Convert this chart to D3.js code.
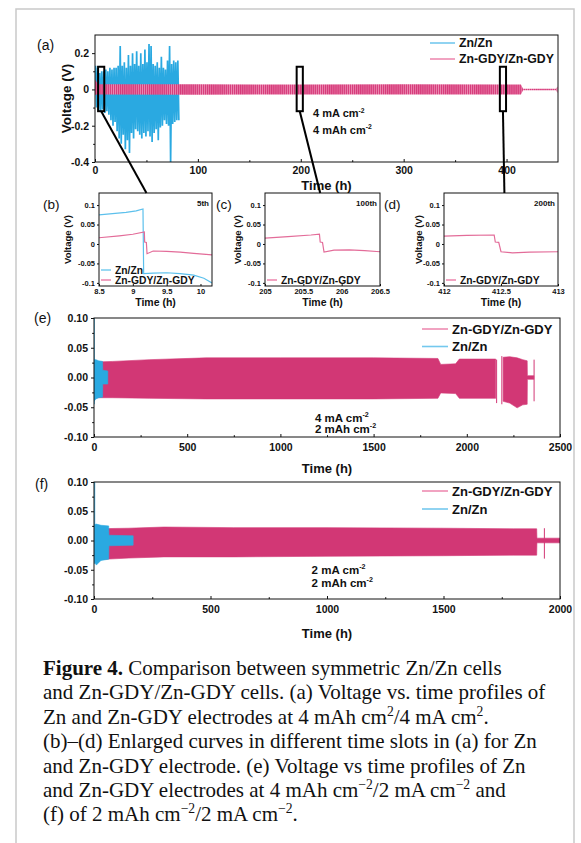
<!DOCTYPE html>
<html>
<head>
<meta charset="utf-8">
<script src="https://cdn.jsdelivr.net/npm/d3@7"></script>
<style>
  body { margin: 0; background: #fff; }
</style>
</head>
<body>
<svg id="fig" width="581" height="843"></svg>
<script>
// ---------- data ----------

// (a) Zn/Zn, one peak / trough per cycle (h, V)
const aZnCycleTime = [1,3,5,7,9,11,13,15,17,19,21,23,25,27,29,31,33,35,37,39,41,43,45,47,49,51,53,55,57,59,61,63,65,67,69,71,73,75,77,79,81];
const aZnCycleHigh = [0.13,0.12,0.09,0.10,0.10,0.11,0.10,0.12,0.11,0.12,
  0.12,0.13,0.24,0.13,0.15,0.12,0.19,0.13,0.20,0.14,
  0.21,0.13,0.20,0.14,0.22,0.15,0.25,0.24,0.14,0.13,
  0.15,0.12,0.18,0.12,0.11,0.16,0.24,0.14,0.16,0.15,0.16];
const aZnCycleLow = [-0.10,-0.12,-0.12,-0.11,-0.13,-0.12,-0.14,-0.17,-0.20,-0.18,
  -0.23,-0.27,-0.30,-0.25,-0.33,-0.28,-0.35,-0.24,-0.27,-0.22,
  -0.23,-0.25,-0.27,-0.24,-0.26,-0.23,-0.26,-0.29,-0.24,-0.22,
  -0.28,-0.21,-0.20,-0.17,-0.19,-0.20,-0.40,-0.19,-0.18,-0.17,-0.17];

// (a) Zn-GDY/Zn-GDY envelope
const aGdyTime = [0, 3, 100, 200, 300, 414, 416, 448, 449.5];
const aGdyHigh = [0.055, 0.028, 0.028, 0.027, 0.028, 0.027, 0.004, 0.004, 0.016];
const aGdyLow  = [-0.03, -0.028, -0.029, -0.028, -0.028, -0.028, -0.004, -0.004, -0.02];

// (a) zoom windows
const aBoxTime = [[3, 9], [196, 202], [393.5, 399.5]];
const aBoxVolt = [-0.12, 0.125];

// (b) 5th cycle
const bZnTime = [8.5, 8.7, 8.9, 9.05, 9.15, 9.16, 9.3, 9.5, 9.7, 9.9, 10.05, 10.17];
const bZnVolt = [0.075, 0.078, 0.081, 0.085, 0.09, -0.076, -0.075, -0.074, -0.076, -0.08, -0.088, -0.1];
const bGdyTime = [8.5, 8.8, 9.0, 9.17, 9.175, 9.2, 9.21, 9.3, 9.5, 9.7, 9.9, 10.17];
const bGdyVolt = [0.016, 0.021, 0.025, 0.031, 0.005, 0.004, -0.025, -0.018, -0.019, -0.021, -0.024, -0.028];

// (c) 100th cycle
const cGdyTime = [205, 205.3, 205.6, 205.71, 205.72, 205.75, 205.77, 205.9, 206.1, 206.3, 206.5];
const cGdyVolt = [0.015, 0.019, 0.023, 0.025, 0.005, 0.004, -0.021, -0.016, -0.015, -0.017, -0.02];

// (d) 200th cycle
const dGdyTime = [412, 412.2, 412.44, 412.45, 412.48, 412.5, 412.6, 412.75, 413];
const dGdyVolt = [0.02, 0.022, 0.023, 0.005, 0.004, -0.02, -0.023, -0.021, -0.02];

// (e) 4 mA cm-2 / 2 mAh cm-2 envelopes (null = gap)
const eGdyTime = [0, 100, 300, 600, 1000, 1500, 1845, 1860, 1940, 1960, 2155, 2156, 2195, 2230, 2270, 2300, 2324, 2325, 2360];
const eGdyHigh = [0.026, 0.027, 0.030, 0.033, 0.033, 0.033, 0.032, 0.022, 0.023, 0.031, 0.031, null, 0.034, 0.035, 0.033, 0.030, 0.028, 0.003, 0.003];
const eGdyLow  = [-0.034, -0.034, -0.035, -0.036, -0.036, -0.036, -0.035, -0.026, -0.027, -0.035, -0.035, null, -0.040, -0.043, -0.051, -0.046, -0.045, -0.003, -0.003];
const eGdySpikeTime = [2160, 2188, 2361];
const eGdySpikeHigh = [0.030, 0.036, 0.030];
const eGdySpikeLow  = [-0.043, -0.045, -0.040];
const eZnTime = [0, 10, 25, 46, 47, 74];
const eZnHigh = [0.030, 0.030, 0.028, 0.027, 0.012, 0.011];
const eZnLow  = [-0.040, -0.036, -0.034, -0.033, -0.011, -0.011];
const eZnSpikeTime = [1];
const eZnSpikeHigh = [0.10];
const eZnSpikeLow  = [-0.045];

// (f) 2 mA cm-2 / 2 mAh cm-2 envelopes
const fGdyTime = [0, 150, 300, 600, 1000, 1500, 1800, 1900, 1901, 2000];
const fGdyHigh = [0.020, 0.021, 0.023, 0.022, 0.022, 0.021, 0.020, 0.020, 0.004, 0.004];
const fGdyLow  = [-0.033, -0.030, -0.028, -0.028, -0.027, -0.026, -0.025, -0.025, -0.004, -0.004];
const fGdySpikeTime = [1933];
const fGdySpikeHigh = [0.021];
const fGdySpikeLow  = [-0.031];
const fZnTime = [0, 10, 30, 63, 64, 168];
const fZnHigh = [0.027, 0.028, 0.026, 0.025, 0.009, 0.008];
const fZnLow  = [-0.035, -0.042, -0.034, -0.032, -0.009, -0.008];
const fZnSpikeTime = [3];
const fZnSpikeHigh = [0.10];
const fZnSpikeLow  = [-0.04];

// tick labels
const aXTicks = [0, 100, 200, 300, 400];
const aXLabels = ["0", "100", "200", "300", "400"];
const aYTicks = [-0.4, -0.2, 0, 0.2];
const aYLabels = ["-0.4", "-0.2", "0", "0.2"];
const bXTicks = [8.5, 9, 9.5, 10];
const bXLabels = ["8.5", "9", "9.5", "10"];
const cXTicks = [205, 205.5, 206, 206.5];
const cXLabels = ["205", "205.5", "206", "206.5"];
const dXTicks = [412, 412.5, 413];
const dXLabels = ["412", "412.5", "413"];
const zoomYTicks = [-0.1, -0.05, 0, 0.05, 0.1];
const zoomYLabels = ["-0.1", "-0.05", "0", "0.05", "0.1"];
const eXTicks = [0, 500, 1000, 1500, 2000, 2500];
const eXLabels = ["0", "500", "1000", "1500", "2000", "2500"];
const fXTicks = [0, 500, 1000, 1500, 2000];
const fXLabels = ["0", "500", "1000", "1500", "2000"];
const efYTicks = [-0.1, -0.05, 0, 0.05, 0.1];
const efYLabels = ["-0.10", "-0.05", "0.00", "0.05", "0.10"];

const captionLines = [
  [["Figure 4.", "b"], [" Comparison between symmetric Zn/Zn cells", ""]],
  [["and Zn-GDY/Zn-GDY cells. (a) Voltage vs. time profiles of", ""]],
  [["Zn and Zn-GDY electrodes at 4 mAh cm", ""], ["2", "sup"], ["/4 mA cm", ""], ["2", "sup"], [".", ""]],
  [["(b)\u2013(d) Enlarged curves in different time slots in (a) for Zn", ""]],
  [["and Zn-GDY electrode. (e) Voltage vs time profiles of Zn", ""]],
  [["and Zn-GDY electrodes at 4 mAh cm", ""], ["\u22122", "sup"], ["/2 mA cm", ""], ["\u22122", "sup"], [" and", ""]],
  [["(f) of 2 mAh cm", ""], ["\u22122", "sup"], ["/2 mA cm", ""], ["\u22122", "sup"], [".", ""]]
];

// ---------- drawing ----------
const sans = '"Liberation Sans", Arial, sans-serif';
const blue = "#2aa9e1", pink = "#d23775";
const blueLight = "#74c8ee", pinkLight = "#ee8cb2";

const svg = d3.select("#fig");
const defs = svg.append("defs");

const pat = defs.append("pattern").attr("id", "pinkStripe")
  .attr("patternUnits", "userSpaceOnUse").attr("width", 2.07).attr("height", 4);
pat.append("rect").attr("width", 2.07).attr("height", 4).attr("fill", "#ec8ab2");
pat.append("rect").attr("width", 1.3).attr("height", 4).attr("fill", "#d63a7a");

// outer frame of the figure
svg.append("path").attr("d", "M16,843V9H574V843")
  .attr("fill", "none").attr("stroke", "#c9c9c9").attr("stroke-width", 1.5);

function txt(g, x, y, s, size, opt = {}) {
  return g.append("text").attr("x", x).attr("y", y).attr("dy", "0.35em")
    .attr("font-family", sans).attr("font-size", size)
    .attr("font-weight", opt.weight || "bold")
    .attr("text-anchor", opt.anchor || "start")
    .attr("fill", "#111").text(s);
}

function supText(g, x, y, base, sup, size) {
  const t = g.append("text").attr("x", x).attr("y", y).attr("dy", "0.35em")
    .attr("font-family", sans).attr("font-size", size).attr("font-weight", "bold").attr("fill", "#111");
  t.append("tspan").text(base);
  t.append("tspan").attr("font-size", size * 0.62).attr("dy", -size * 0.42).text(sup);
  return t;
}

function makePanel(c) {
  const x = d3.scaleLinear().domain(c.xDomain).range([c.left, c.right]);
  const y = d3.scaleLinear().domain(c.yDomain).range([c.bottom, c.top]);
  const g = svg.append("g");
  defs.append("clipPath").attr("id", "clip-" + c.name)
    .append("rect").attr("x", c.left).attr("y", c.top)
    .attr("width", c.right - c.left).attr("height", c.bottom - c.top);
  const plot = g.append("g").attr("clip-path", `url(#clip-${c.name})`);
  return { x, y, g, plot, c };
}

function drawAxes(p) {
  const { x, y, g, c } = p;
  const ax = g.append("g").attr("transform", `translate(0,${c.bottom})`)
    .call(d3.axisBottom(x).tickValues(c.xTicks).tickFormat((d, i) => c.xLabels[i])
      .tickSizeInner(-c.tick).tickSizeOuter(0).tickPadding(c.xPad));
  if (c.xMinor) {
    g.append("g").attr("transform", `translate(0,${c.bottom})`)
      .call(d3.axisBottom(x).tickValues(c.xMinor).tickFormat("").tickSizeInner(-c.tick * 0.6).tickSizeOuter(0))
      .select(".domain").remove();
  }
  const ay = g.append("g").attr("transform", `translate(${c.left},0)`)
    .call(d3.axisLeft(y).tickValues(c.yTicks).tickFormat((d, i) => c.yLabels[i])
      .tickSizeInner(c.tick).tickSizeOuter(0).tickPadding(c.yPad));
  if (c.yMinor) {
    g.append("g").attr("transform", `translate(${c.left},0)`)
      .call(d3.axisLeft(y).tickValues(c.yMinor).tickFormat("").tickSizeInner(c.tick * 0.6).tickSizeOuter(0))
      .select(".domain").remove();
  }
  [ax, ay].forEach(a => {
    a.select(".domain").remove();
    a.selectAll("line").attr("stroke", "#111");
    a.selectAll("text").attr("font-family", sans).attr("font-weight", "bold")
      .attr("font-size", c.tickFont).attr("fill", "#111");
  });
  g.append("rect").attr("x", c.left).attr("y", c.top)
    .attr("width", c.right - c.left).attr("height", c.bottom - c.top)
    .attr("fill", "none").attr("stroke", "#111").attr("stroke-width", 1);
  if (c.xTitle) txt(g, (c.left + c.right) / 2 + (c.xTitleShift || 0), c.xTitleY, "Time (h)", c.titleFont, { anchor: "middle" });
  if (c.yTitleX) {
    txt(g, 0, 0, "Voltage (V)", c.yTitleFont, { anchor: "middle" })
      .attr("transform", `translate(${c.yTitleX},${(c.top + c.bottom) / 2}) rotate(-90)`);
  }
  txt(g, c.tagX, c.tagY, c.tag, c.tagFont, { weight: "normal" });
}

function band(p, t, hi, lo, fill) {
  const pts = t.map((d, i) => ({ t: d, hi: hi[i], lo: lo[i] }));
  p.plot.append("path").datum(pts)
    .attr("d", d3.area().defined(d => d.hi !== null)
      .x(d => p.x(d.t)).y0(d => p.y(d.lo)).y1(d => p.y(d.hi)))
    .attr("fill", fill).attr("stroke", fill === "url(#pinkStripe)" ? "none" : fill).attr("stroke-width", 0.6);
}

function spikes(p, t, hi, lo, color) {
  p.plot.selectAll(null).data(t).join("line")
    .attr("x1", d => p.x(d)).attr("x2", d => p.x(d))
    .attr("y1", (d, i) => p.y(hi[i])).attr("y2", (d, i) => p.y(lo[i]))
    .attr("stroke", color).attr("stroke-width", 1);
}

function curve(p, t, v, color) {
  p.plot.append("path").datum(t.map((d, i) => [d, v[i]]))
    .attr("d", d3.line().x(d => p.x(d[0])).y(d => p.y(d[1])))
    .attr("fill", "none").attr("stroke", color).attr("stroke-width", 1.2);
}

function legend(g, x, y, gap, items, size, len) {
  items.forEach((it, i) => {
    g.append("line").attr("x1", x).attr("x2", x + len)
      .attr("y1", y + i * gap).attr("y2", y + i * gap)
      .attr("stroke", it.color).attr("stroke-width", 1.6);
    txt(g, x + len + 4, y + i * gap, it.label, size);
  });
}

// ----- panel (a) -----
const A = makePanel({
  name: "a", left: 95, right: 558, top: 35, bottom: 162,
  xDomain: [0, 450], yDomain: [-0.4, 0.3],
  xTicks: aXTicks, xLabels: aXLabels, xMinor: [50, 150, 250, 350],
  yTicks: aYTicks, yLabels: aYLabels, yMinor: [-0.3, -0.1, 0.1],
  tick: 3, xPad: 5, yPad: 3, tickFont: 10.5,
  xTitle: true, xTitleY: 185, titleFont: 13, yTitleX: 66, yTitleFont: 13.5,
  tag: "(a)", tagX: 37, tagY: 45, tagFont: 14
});
const aZig = [];
aZnCycleTime.forEach((t, i) => { aZig.push([t - 0.5, aZnCycleHigh[i]]); aZig.push([t + 0.5, aZnCycleLow[i]]); });
A.plot.append("path").datum(aZig)
  .attr("d", d3.line().x(d => A.x(d[0])).y(d => A.y(d[1])))
  .attr("fill", "none").attr("stroke", blue).attr("stroke-width", 1.7)
  .attr("stroke-linejoin", "bevel");
band(A, aGdyTime, aGdyHigh, aGdyLow, "url(#pinkStripe)");
drawAxes(A);
legend(A.g, 430, 43, 16, [{ label: "Zn/Zn", color: blueLight }, { label: "Zn-GDY/Zn-GDY", color: pinkLight }], 12.3, 25);
supText(A.g, A.x(212), A.y(-0.132), "4 mA cm", "-2", 11);
supText(A.g, A.x(212), A.y(-0.224), "4 mAh cm", "-2", 11);

// ----- panels (b)-(d) -----
const zoomCommon = {
  top: 193, bottom: 286, yDomain: [-0.108, 0.131],
  yTicks: zoomYTicks, yLabels: zoomYLabels,
  tick: 2, xPad: 2.5, yPad: 2, tickFont: 7.5,
  xTitle: true, xTitleY: 302, titleFont: 10.5, yTitleFont: 9.5, tagY: 204, tagFont: 13.5
};
const B = makePanel(Object.assign({}, zoomCommon, {
  name: "b", left: 99, right: 212, xDomain: [8.5, 10.17], xTicks: bXTicks, xLabels: bXLabels,
  yTitleX: 68, tag: "(b)", tagX: 43
}));
const C = makePanel(Object.assign({}, zoomCommon, {
  name: "c", left: 265, right: 380, xDomain: [205, 206.5], xTicks: cXTicks, xLabels: cXLabels,
  yTitleX: 238, tag: "(c)", tagX: 216
}));
const D = makePanel(Object.assign({}, zoomCommon, {
  name: "d", left: 444, right: 558, xDomain: [412, 413], xTicks: dXTicks, xLabels: dXLabels,
  yTitleX: 419, tag: "(d)", tagX: 384
}));
curve(B, bZnTime, bZnVolt, "#5cc0ec");
curve(B, bGdyTime, bGdyVolt, "#e36c99");
curve(C, cGdyTime, cGdyVolt, "#e36c99");
curve(D, dGdyTime, dGdyVolt, "#e36c99");
[[B, "5th"], [C, "100th"], [D, "200th"]].forEach(([p, s]) => {
  drawAxes(p);
  txt(p.g, p.c.right - 3, p.c.top + 10, s, 8, { anchor: "end" });
});
legend(B.g, B.c.left + 2, 270, 10, [{ label: "Zn/Zn", color: "#7fd0f0" }, { label: "Zn-GDY/Zn-GDY", color: "#ee8cb2" }], 10.3, 10);
legend(C.g, C.c.left + 2, 280, 10, [{ label: "Zn-GDY/Zn-GDY", color: "#ee8cb2" }], 10.3, 10);
legend(D.g, D.c.left + 2, 280, 10, [{ label: "Zn-GDY/Zn-GDY", color: "#ee8cb2" }], 10.3, 10);

// zoom boxes + connectors in (a)
aBoxTime.forEach((bt, i) => {
  const x0 = A.x(bt[0]), x1 = A.x(bt[1]);
  A.g.append("rect").attr("x", x0).attr("y", A.y(aBoxVolt[1]))
    .attr("width", x1 - x0).attr("height", A.y(aBoxVolt[0]) - A.y(aBoxVolt[1]))
    .attr("fill", "none").attr("stroke", "#000").attr("stroke-width", 2);
  const target = [B, C, D][i];
  const frac = [0.42, 0.48, 0.53][i];
  svg.append("line")
    .attr("x1", (x0 + x1) / 2).attr("y1", A.y(aBoxVolt[0]))
    .attr("x2", target.c.left + frac * (target.c.right - target.c.left)).attr("y2", target.c.top)
    .attr("stroke", "#000").attr("stroke-width", 2);
});

// ----- panel (e) -----
const E = makePanel({
  name: "e", left: 94, right: 560, top: 318, bottom: 437,
  xDomain: [0, 2500], yDomain: [-0.1, 0.1],
  xTicks: eXTicks, xLabels: eXLabels, xMinor: [250, 750, 1250, 1750, 2250],
  yTicks: efYTicks, yLabels: efYLabels, yMinor: [-0.075, -0.025, 0.025, 0.075],
  tick: 3, xPad: 7, yPad: 3, tickFont: 10.5,
  xTitle: true, xTitleY: 468, titleFont: 13,
  tag: "(e)", tagX: 34, tagY: 318, tagFont: 14
});
band(E, eGdyTime, eGdyHigh, eGdyLow, pink);
spikes(E, eGdySpikeTime, eGdySpikeHigh, eGdySpikeLow, pink);
band(E, eZnTime, eZnHigh, eZnLow, blue);
spikes(E, eZnSpikeTime, eZnSpikeHigh, eZnSpikeLow, blue);
drawAxes(E);
legend(E.g, 422, 329, 17.5, [{ label: "Zn-GDY/Zn-GDY", color: pinkLight }, { label: "Zn/Zn", color: blueLight }], 13, 26);
supText(E.g, E.x(1185), E.y(-0.068), "4 mA cm", "-2", 11.5);
supText(E.g, E.x(1185), E.y(-0.086), "2 mAh cm", "-2", 11.5);

// ----- panel (f) -----
const F = makePanel({
  name: "f", left: 94, right: 560, top: 482, bottom: 599,
  xDomain: [0, 2000], yDomain: [-0.1, 0.1],
  xTicks: fXTicks, xLabels: fXLabels, xMinor: [250, 750, 1250, 1750],
  yTicks: efYTicks, yLabels: efYLabels, yMinor: [-0.075, -0.025, 0.025, 0.075],
  tick: 3, xPad: 7, yPad: 3, tickFont: 10.5,
  xTitle: true, xTitleY: 633, titleFont: 13,
  tag: "(f)", tagX: 35, tagY: 484, tagFont: 14
});
band(F, fGdyTime, fGdyHigh, fGdyLow, pink);
spikes(F, fGdySpikeTime, fGdySpikeHigh, fGdySpikeLow, pink);
band(F, fZnTime, fZnHigh, fZnLow, blue);
spikes(F, fZnSpikeTime, fZnSpikeHigh, fZnSpikeLow, blue);
drawAxes(F);
legend(F.g, 422, 491, 18, [{ label: "Zn-GDY/Zn-GDY", color: pinkLight }, { label: "Zn/Zn", color: blueLight }], 13, 26);
supText(F.g, F.x(934), F.y(-0.05), "2 mA cm", "-2", 11.5);
supText(F.g, F.x(934), F.y(-0.073), "2 mAh cm", "-2", 11.5);

// ----- caption -----
const capSize = 21;
const cap = svg.append("g").attr("font-family", '"Liberation Serif", "Times New Roman", serif')
  .attr("font-size", capSize).attr("fill", "#111");
captionLines.forEach((line, i) => {
  const t = cap.append("text").attr("x", 43).attr("y", 675 + i * 24.4);
  let up = false;
  line.forEach(([s, style]) => {
    const ts = t.append("tspan").text(s);
    if (style === "b") ts.attr("font-weight", "bold");
    if (style === "sup") {
      ts.attr("font-size", capSize * 0.65).attr("dy", -capSize * 0.38);
      up = true;
    } else if (up) {
      ts.attr("dy", capSize * 0.38);
      up = false;
    }
  });
});
</script>
</body>
</html>
